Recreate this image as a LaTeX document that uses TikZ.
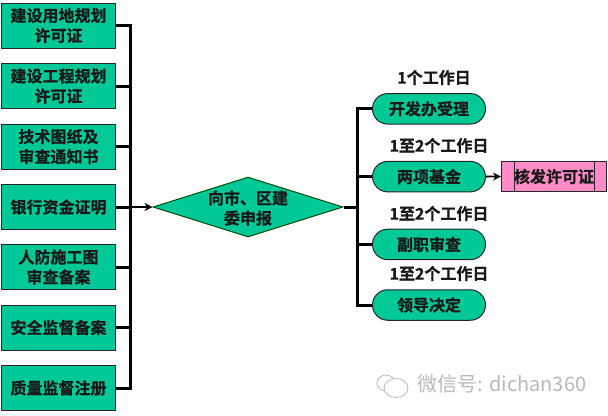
\documentclass[tikz,border=0pt]{standalone}
\usepackage{fontspec}
\setmainfont{Noto Sans CJK SC}[BoldFont={Noto Sans CJK SC Bold},BoldFeatures={FakeBold=0.8}]
\usetikzlibrary{shapes.geometric,shapes.misc,arrows.meta}
\definecolor{boxgreen}{HTML}{00C896}
\definecolor{boxpink}{HTML}{FF8CC6}
\tikzset{
	txt/.style={font=\fontsize{16bp}{20bp}\selectfont\bfseries, text=black!90, align=center, inner sep=0pt},
	docbox/.style={txt, draw=black!85, line width=1bp, fill=boxgreen, minimum width=114bp, minimum height=45bp},
	stepround/.style={txt, rounded rectangle, draw=black!85, line width=1bp, fill=boxgreen, minimum width=113bp, minimum height=30.5bp},
	busline/.style={black, line width=3bp},
	thinline/.style={black, line width=1.8bp, -{Stealth[length=8bp,width=8bp]}},
	daylabel/.style={txt}
}
\begin{document}
\begin{tikzpicture}[x=1bp,y=-1bp]
	\useasboundingbox (0,0) rectangle (608,415);

	% left column
	\node[docbox] (box1) at (58.5,25.5) {建设用地规划\\许可证};
	\node[docbox] (box2) at (58.5,86) {建设工程规划\\许可证};
	\node[docbox] (box3) at (58.5,146.5) {技术图纸及\\审查通知书};
	\node[docbox] (box4) at (58.5,207) {银行资金证明};
	\node[docbox] (box5) at (58.5,267) {人防施工图\\审查备案};
	\node[docbox] (box6) at (58.5,327.5) {安全监督备案};
	\node[docbox] (box7) at (58.5,388) {质量监督注册};

	% middle
	\node[diamond, draw=black!70!green, line width=1bp, fill=boxgreen, inner sep=0pt, minimum width=190bp, minimum height=60bp, aspect=3.17,
		label={[txt, yshift=-1bp]center:{向市、区建\\委申报}}] (apply) at (248,207) {};

	% right column
	\node[stepround] (step1) at (429,108.8) {开发办受理};
	\node[stepround] (step2) at (429,176.6) {两项基金};
	\node[stepround] (step3) at (429,244.4) {副职审查};
	\node[stepround] (step4) at (429,305) {领导决定};

	\node[daylabel] (day1) at (434,77.5) {1个工作日};
	\node[daylabel] (day2) at (439,145.5) {1至2个工作日};
	\node[daylabel] (day3) at (439,213.5) {1至2个工作日};
	\node[daylabel] (day4) at (439,273.5) {1至2个工作日};

	\node[txt, draw=black!85, line width=1bp, fill=boxpink, minimum width=105bp, minimum height=30.5bp] (permit) at (554,176.5) {核发许可证};
	\draw[black!85, line width=1bp] ([xshift=13bp]permit.north west) -- ([xshift=13bp]permit.south west);
	\draw[black!85, line width=1bp] ([xshift=-13bp]permit.north east) -- ([xshift=-13bp]permit.south east);

	% connectors
	\coordinate (busl) at (130,207);
	\coordinate (busr) at (357,207);
	\foreach \n in {1,...,7}
		\draw[busline] (box\n.east) -- (box\n.east -| busl);
	\draw[busline, line cap=rect] (box1.east -| busl) -- (box7.east -| busl);
	\draw[thinline] (busl) -- (apply.west);
	\draw[busline] (apply.east) -- (busr);
	\foreach \n in {1,...,4}
		\draw[busline] (step\n.west) -- (step\n.west -| busr);
	\draw[busline, line cap=rect] (step1.west -| busr) -- (step4.west -| busr);
	\draw[thinline] (step2.east) -- (permit.west);

	% watermark
	\draw[black!25, line width=.9bp, fill=white] (386,383) ellipse (9 and 8);
	\draw[black!25, line width=.9bp, fill=white] (396,388) ellipse (12 and 9.5);
	\node[font=\fontsize{20bp}{22bp}\selectfont, text=black!28, inner sep=0pt] (mark) at (502,384) {微信号: dichan360};
\end{tikzpicture}
\end{document}
